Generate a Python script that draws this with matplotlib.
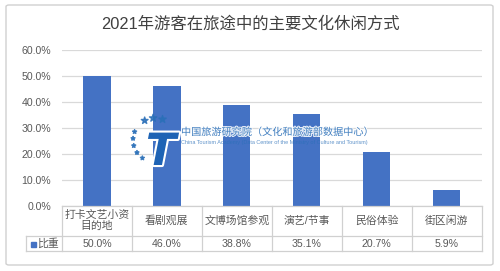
import numpy as np
import matplotlib
matplotlib.use('Agg')
import matplotlib.pyplot as plt
import matplotlib.patheffects as pe
from matplotlib.transforms import blended_transform_factory
from matplotlib.patches import FancyBboxPatch
from matplotlib.lines import Line2D

plt.rcParams['font.family'] = ['Liberation Sans', 'Noto Sans CJK SC', 'DejaVu Sans']

title = '2021年游客在旅途中的主要文化休闲方式'
categories = ['打卡文艺小资\n目的地', '看剧观展', '文博场馆参观', '演艺/节事', '民俗体验', '街区闲游']
values = [50.0, 46.0, 38.8, 35.1, 20.7, 5.9]
series_name = '比重'
yticks = [0, 10, 20, 30, 40, 50, 60]

W, H = 500, 271
bar_color = '#4472C4'
grid_color = '#d9d9d9'
text_color = '#595959'


def fx(px):
    return px / W


def fy(py):
    return 1 - py / H


fig = plt.figure(figsize=(5.0, 2.71), dpi=100)
fig.patch.set_facecolor('white')

# outer chart frame
fig.patches.append(FancyBboxPatch((fx(6), fy(265)), fx(487), (265 - 5) / H,
                                  boxstyle='round,pad=0,rounding_size=0.006',
                                  transform=fig.transFigure, fill=False,
                                  edgecolor='#d0d0d0', linewidth=1.0))

ax = fig.add_axes([fx(62), fy(205.5), fx(481.5 - 62), (205.5 - 49.5) / H])
x = np.arange(len(categories))
ax.bar(x, values, width=0.39, color=bar_color, zorder=3)
ax.set_xlim(-0.5, len(categories) - 0.5)
ax.set_ylim(0, 60)
ax.set_yticks(yticks)
ax.set_yticklabels(['%.1f%%' % t for t in yticks], fontsize=7.6, color=text_color)
ax.set_xticks([])
ax.tick_params(axis='y', length=0, pad=8)
for s in ax.spines.values():
    s.set_visible(False)
ax.yaxis.grid(True, color=grid_color, linewidth=0.9, zorder=0)
ax.set_axisbelow(True)

fig.text(0.5, fy(24), title, ha='center', va='center', fontsize=11.8, color='#404040')

# data table below the bars
y_top, y_mid, y_bot = 205.5, 236, 251
x_left, x_axis, x_right = 26, 62, 481.5
lc = '#d0d0d0'
segs = [
    ((x_axis, y_top), (x_right, y_top)),
    ((x_left, y_mid), (x_right, y_mid)),
    ((x_left, y_bot), (x_right, y_bot)),
    ((x_left, y_mid), (x_left, y_bot)),
]
col_w = (x_right - x_axis) / len(categories)
for i in range(len(categories) + 1):
    xx = x_axis + i * col_w
    segs.append(((xx, y_top), (xx, y_bot)))
for (x0, y0), (x1, y1) in segs:
    fig.add_artist(Line2D([fx(x0), fx(x1)], [fy(y0), fy(y1)], color=lc,
                          linewidth=0.9, transform=fig.transFigure))

tr = blended_transform_factory(ax.transData, fig.transFigure)
for i, (c, v) in enumerate(zip(categories, values)):
    fig.text(i, fy((y_top + y_mid) / 2), c, transform=tr, ha='center', va='center',
             fontsize=7.8, color=text_color, linespacing=1.1)
    fig.text(i, fy((y_mid + y_bot) / 2 + 0.5), '%.1f%%' % v, transform=tr, ha='center',
             va='center', fontsize=7.6, color=text_color)
fig.add_artist(Line2D([fx(33)], [fy(243.5)], marker='s', markersize=3.6,
                      color=bar_color, transform=fig.transFigure))
fig.text(fx(37), fy(243.5), series_name, ha='left', va='center', fontsize=7.8,
         color=text_color)

# watermark logo
cx, cy, r = 155, 140, 22
ang = np.deg2rad(np.array([70, 95, 118, 158, 176, 195, 215, 235]))
sizes = np.array([30, 30, 26, 9, 9, 9, 9, 9])
wm = fig.add_axes([0, 0, 1, 1], facecolor='none')
wm.set_xlim(0, W)
wm.set_ylim(H, 0)
wm.axis('off')
wm.scatter(cx + r * np.cos(ang), cy - r * np.sin(ang), s=sizes,
           marker='*', color='#2a6fb8', alpha=0.85, zorder=5)
wm.text(161, 148, 'T', ha='center', va='center_baseline', fontsize=32,
        fontweight='bold', style='italic', color='#1e63b5',
        family='DejaVu Sans', zorder=6,
        path_effects=[pe.withStroke(linewidth=3, foreground='white')])
halo = [pe.withStroke(linewidth=1.5, foreground=(1, 1, 1, 0.5))]
wm.text(181, 132, '中国旅游研究院（文化和旅游部数据中心）', ha='left', va='center',
        fontsize=7.3, color='#2a6fb8', alpha=0.85, path_effects=halo,
        family=['Noto Sans CJK SC', 'DejaVu Sans'])
wm.text(181, 142.5, 'China Tourism Academy (Data Center of the Ministry of Culture and Tourism)',
        ha='left', va='center', fontsize=4.0, color='#2a6fb8', alpha=0.75)

fig.savefig('out.png', dpi=100)
